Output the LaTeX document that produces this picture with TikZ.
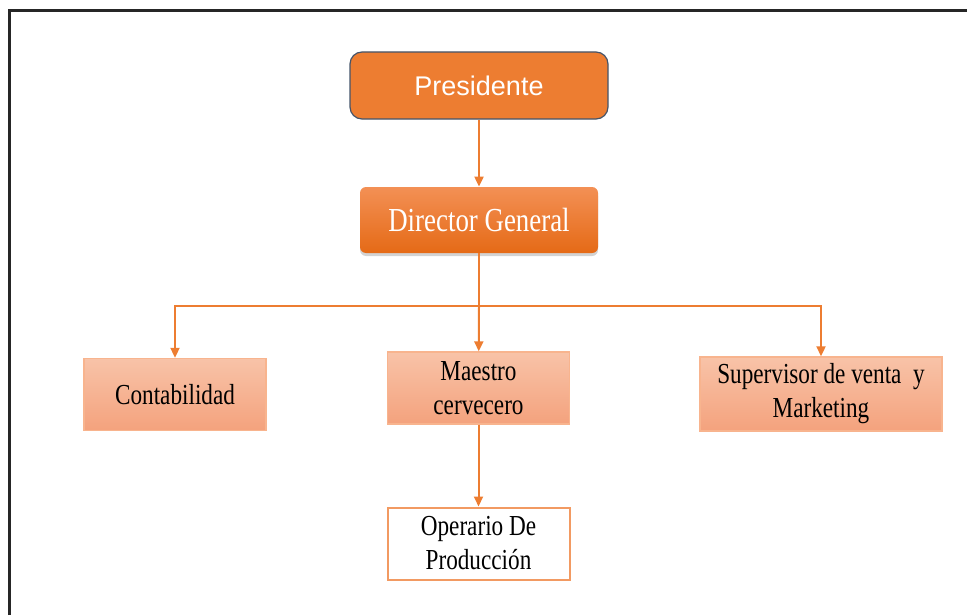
\documentclass[tikz,border=0pt]{standalone}
\usepackage{fontspec}
\setmainfont{Liberation Serif}
\newfontfamily\presfont{Liberation Sans}
\newfontfamily\cond[FakeStretch=0.8]{Liberation Serif}
\usetikzlibrary{arrows.meta,shadows}

\definecolor{naranja}{HTML}{ED7D31}
\definecolor{naranjaosc}{HTML}{E56A16}
\definecolor{naranjacl}{HTML}{F39055}
\definecolor{salmontop}{HTML}{F8C3A8}
\definecolor{salmonbot}{HTML}{F4A27D}
\definecolor{bordecl}{HTML}{F8B48E}
\definecolor{bordeop}{HTML}{F29A62}
\definecolor{azulgris}{HTML}{44546A}

\tikzset{
  caja/.style={line width=0.7pt, minimum width=91pt, minimum height=36pt, inner sep=0pt,
    align=center, font=\cond\fontsize{14.5}{17}\selectfont},
  cargo/.style={caja, draw=bordecl, top color=salmontop, bottom color=salmonbot},
  operario/.style={caja, fill=white, draw=bordeop, line width=1pt},
  flecha/.style={naranja, line width=1pt, -{Triangle[length=5pt,width=4.5pt]}},
  linea/.style={naranja, line width=1pt},
}

\begin{document}
\begin{tikzpicture}[x=0.5pt,y=-0.5pt]
\useasboundingbox (0,0) rectangle (967,615);
% marco
\draw[line width=1.5pt, black!85] (9,615) -- (9,11) -- (967,11);

\node[draw=azulgris, line width=0.6pt, fill=naranja, rounded corners=6pt,
  minimum width=129pt, minimum height=33.5pt, inner sep=0pt,
  text=white, font=\presfont\fontsize{13.5}{15}\selectfont] (pres) at (479,85.5) {Presidente};
\node[top color=naranjacl, bottom color=naranjaosc, rounded corners=3pt,
  drop shadow={shadow xshift=0pt, shadow yshift=-1.5pt, opacity=0.35},
  minimum width=119pt, minimum height=33pt, inner sep=0pt,
  text=white, font=\cond\fontsize{16.8}{20}\selectfont] (dir) at (479,220) {Director General};

\node[cargo] (conta) at (175,394.5) {Contabilidad};
\node[cargo] (maestro) at (478.5,388) {Maestro\\cervecero};
\node[cargo, minimum width=121pt, minimum height=37pt] (super) at (821,394) {Supervisor de venta\ \ y\\Marketing};
\node[operario] (oper) at (478.5,543.5) {Operario De\\Producción};

\coordinate (bus) at (479,306);
\draw[flecha] (pres) -- (dir);
\draw[linea] (dir) -- (bus);
\draw[flecha] (bus) -- (maestro);
\draw[flecha] (bus) -| (conta);
\draw[flecha] (bus) -| (super);
\draw[flecha] (maestro) -- (oper);
\end{tikzpicture}
\end{document}
